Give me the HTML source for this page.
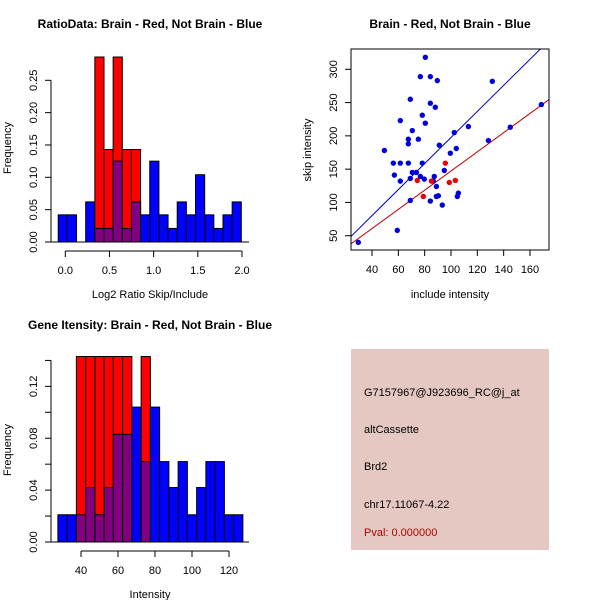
<!DOCTYPE html>
<html><head><meta charset="utf-8">
<style>
html,body{margin:0;padding:0;background:#fff;}
svg{display:block;font-family:"Liberation Sans",sans-serif;}
</style></head>
<body>
<svg id="root" width="600" height="600" xmlns="http://www.w3.org/2000/svg">
<rect width="600" height="600" fill="#fff"/>
<g id="p1"></g>
<g id="p2"></g>
<g id="p3"></g>
<g id="p4">
<rect x="351" y="349" width="198" height="201" fill="#e6c8c2"/>
<text x="364" y="396" font-size="11" fill="#000">G7157967@J923696_RC@j_at</text>
<text x="364" y="433" font-size="11" fill="#000">altCassette</text>
<text x="364" y="470" font-size="11" fill="#000">Brd2</text>
<text x="364" y="508" font-size="11" fill="#000">chr17.11067-4.22</text>
<text x="364" y="536" font-size="11" fill="#b00000">Pval: 0.000000</text>
</g>
</svg>
<script>
// ---- Plot 1 data ----
const ratioBinStart = -0.08;
const ratioBinWidth = 0.1036;
const ratioBlue = [0.042,0.042,0,0.062,0.021,0.021,0.125,0.021,0.062,0.042,0.125,0.042,0.021,0.062,0.042,0.104,0.042,0.021,0.042,0.062];
const ratioRed  = [0,0,0,0,0.286,0.143,0.286,0.143,0.143,0,0,0,0,0,0,0,0,0,0,0];
const ratioXTicks = [0.0,0.5,1.0,1.5,2.0];
const ratioXLabels = ["0.0","0.5","1.0","1.5","2.0"];
const ratioYTicks = [0,0.05,0.10,0.15,0.20,0.25];
const ratioYLabels = ["0.00","0.05","0.10","0.15","0.20","0.25"];
// ---- Plot 2 data ----
const blueX = [29.6,59.2,49.4,56.2,57,61.5,61.5,61.5,67.6,67.6,67.6,69.1,70.6,69.1,69.1,70.6,73.7,75.2,76.7,76.7,78.2,78.2,79.7,80.5,80.5,84.3,84.3,84.3,87.3,86.6,88.1,89.6,88.9,88.9,90.4,91.1,93.4,94.9,99.5,102.5,104,104.8,105.6,113.2,128.4,131.4,145,168.6];
const blueY = [40,58,178,159,141,223,159,132,159,188,195,255,208,136,103,145,145,195,139,289,231,159,135,318,219,289,249,102,139,132,243,283,124,109,110,186,96,148,174,205,181,109,114,214,193,282,213,247];
const redX = [74.4,79,85.1,95.7,98.7,103.3];
const redY = [133,109,132,159,130,133];
const blueFit = [1.8,1.958];
const redFit = [3.0,1.442];
const scXTicks = [40,60,80,100,120,140,160];
const scYTicks = [50,100,150,200,250,300];
// ---- Plot 3 data ----
const intBinStart = 27.5;
const intBinWidth = 5;
const intBlue = [0.021,0.021,0.021,0.042,0.021,0.042,0.083,0.083,0.104,0.062,0.104,0.062,0.042,0.062,0.021,0.042,0.062,0.062,0.021,0.021];
const intRed  = [0,0,0.143,0.143,0.143,0.143,0.143,0.143,0,0.143,0,0,0,0,0,0,0,0,0,0];
const intXTicks = [40,60,80,100,120];
const intYTicks = [0,0.02,0.04,0.06,0.08,0.10,0.12,0.14];
const intYLabels = ["0.00","","0.04","","0.08","","0.12",""];

const NS="http://www.w3.org/2000/svg";
function mk(parent,tag,attrs,text){const e=document.createElementNS(NS,tag);for(const k in attrs)e.setAttribute(k,attrs[k]);if(text!==undefined)e.textContent=text;parent.appendChild(e);return e;}

function histogram(g,o){
  const sx=v=>o.x0+(v-o.d0)*o.kx, sy=v=>o.y0-v*o.ky;
  for(let i=0;i<o.blue.length;i++){
    const a=sx(o.start+i*o.w), b=sx(o.start+(i+1)*o.w);
    const r=o.red[i], bl=o.blue[i];
    if(r>0){const e=mk(g,'rect',{x:a,y:sy(r),width:b-a,height:sy(0)-sy(r),fill:'#ff0000',stroke:'#000','stroke-width':1});
      
      }
    if(bl>0){const top=r>0?Math.min(r,bl):bl;
      if(bl>r){const e=mk(g,'rect',{x:a,y:sy(bl),width:b-a,height:sy(0)-sy(bl),fill:'#0000ff',stroke:'#000','stroke-width':1});
        
        }
      if(r>0){const e=mk(g,'rect',{x:a,y:sy(top),width:b-a,height:sy(0)-sy(top),fill:'#800080',stroke:'#000','stroke-width':1});
        
        }
    }
  }
  mk(g,'line',{x1:51,x2:249,y1:o.y0,y2:o.y0,stroke:'#000'});
  const yt=o.yTicks;
  mk(g,'line',{x1:51,x2:51,y1:sy(yt[0]),y2:sy(yt[yt.length-1]),stroke:'#000'});
  yt.forEach((v,i)=>{mk(g,'line',{x1:45,x2:51,y1:sy(v),y2:sy(v),stroke:'#000'});
    if(o.yLabels[i]){const t=mk(g,'text',{x:0,y:0,'font-size':11,'text-anchor':'middle',transform:`translate(37,${sy(v)}) rotate(-90)`},o.yLabels[i]);
      
      }});
  const xt=o.xTicks, ay=o.y0+9;
  mk(g,'line',{x1:sx(xt[0]),x2:sx(xt[xt.length-1]),y1:ay,y2:ay,stroke:'#000'});
  xt.forEach((v,i)=>{mk(g,'line',{x1:sx(v),x2:sx(v),y1:ay,y2:ay+6,stroke:'#000'});
    const t=mk(g,'text',{x:sx(v),y:ay+23,'font-size':11,'text-anchor':'middle'},o.xLabels[i]);
    
    });
  const tt=mk(g,'text',{x:150,y:o.titleY,'font-size':12,'font-weight':'bold','text-anchor':'middle'},o.title);
  
  
  const xl=mk(g,'text',{x:150,y:o.xlabY,'font-size':11,'text-anchor':'middle'},o.xlab);
  
  
  const yl=mk(g,'text',{x:0,y:0,'font-size':11,'text-anchor':'middle',transform:`translate(11,${o.ylabMid}) rotate(-90)`},'Frequency');
  
  
}

histogram(document.getElementById('p1'),{x0:65.3,d0:0,kx:88.35,y0:242,ky:646.8,start:ratioBinStart,w:ratioBinWidth,
  blue:ratioBlue,red:ratioRed,xTicks:ratioXTicks,xLabels:ratioXLabels,yTicks:ratioYTicks,yLabels:ratioYLabels,
  title:'RatioData: Brain - Red, Not Brain - Blue',titleY:28,xlab:'Log2 Ratio Skip/Include',xlabY:298,ylabMid:148});

histogram(document.getElementById('p3'),{x0:81,d0:40,kx:1.85,y0:542,ky:1297,start:intBinStart,w:intBinWidth,
  blue:intBlue,red:intRed,xTicks:intXTicks,xLabels:intXTicks.map(String),yTicks:intYTicks,yLabels:intYLabels,
  title:'Gene Itensity: Brain - Red, Not Brain - Blue',titleY:329,xlab:'Intensity',xlabY:598,ylabMid:450});

(function(){
  const g=document.getElementById('p2');
  const sx=v=>372+(v-40)*1.3167, sy=v=>235.7-(v-50)*0.6656;
  const L=351,R=549,T=49,B=250;
  const clip=mk(g,'clipPath',{id:'sc'});mk(clip,'rect',{x:L,y:T,width:R-L,height:B-T});
  [[blueFit,'#0000c0'],[redFit,'#c00000']].forEach(([f,c])=>{
    const xa=(L-372)/1.3167+40, xb=(R-372)/1.3167+40;
    const ln=mk(g,'line',{x1:sx(xa),y1:sy(f[0]+f[1]*xa),x2:sx(xb),y2:sy(f[0]+f[1]*xb),stroke:c,'stroke-width':1,'clip-path':'url(#sc)'});
    
    
  });
  blueX.forEach((x,i)=>{const c=mk(g,'circle',{cx:sx(x),cy:sy(blueY[i]),r:2.7,fill:'#0000dd'});
    
    });
  redX.forEach((x,i)=>{const c=mk(g,'circle',{cx:sx(x),cy:sy(redY[i]),r:2.7,fill:'#ee0000'});
    
    });
  mk(g,'rect',{x:L,y:T,width:R-L,height:B-T,fill:'none',stroke:'#000'});
  scXTicks.forEach(v=>{mk(g,'line',{x1:sx(v),x2:sx(v),y1:B,y2:B+6,stroke:'#000'});
    const t=mk(g,'text',{x:sx(v),y:B+23,'font-size':11,'text-anchor':'middle'},String(v));
    
    });
  scYTicks.forEach(v=>{mk(g,'line',{x1:L-6,x2:L,y1:sy(v),y2:sy(v),stroke:'#000'});
    const t=mk(g,'text',{x:0,y:0,'font-size':11,'text-anchor':'middle',transform:`translate(337,${sy(v)}) rotate(-90)`},String(v));
    
    });
  const tt=mk(g,'text',{x:450,y:28,'font-size':12,'font-weight':'bold','text-anchor':'middle'},'Brain - Red, Not Brain - Blue');
  
  
  const xl=mk(g,'text',{x:450,y:298,'font-size':11,'text-anchor':'middle'},'include intensity');
  
  
  const yl=mk(g,'text',{x:0,y:0,'font-size':11,'text-anchor':'middle',transform:'translate(311,150) rotate(-90)'},'skip intensity');
  
  
})();
</script>
</body></html>
